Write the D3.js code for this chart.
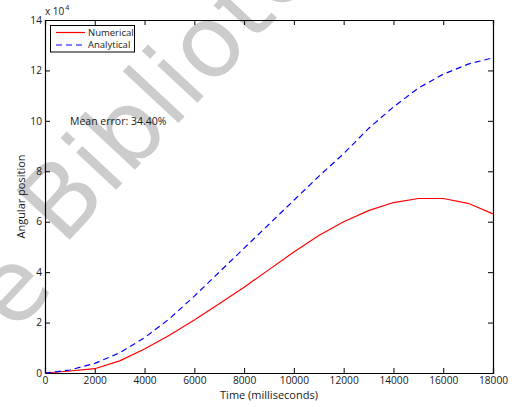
<!DOCTYPE html>
<html>
<head>
<meta charset="utf-8">
<script src="https://cdn.jsdelivr.net/npm/d3@7"></script>
<style>
  html, body { margin: 0; padding: 0; background: #fff; }
  svg { display: block; }
  text { font-family: "Open Sans", sans-serif; fill: #1a1a1a; }
  text.wm { font-family: "DejaVu Sans", sans-serif; font-size: 100px; fill: #cccccc; }
</style>
</head>
<body>
<svg id="chart" width="512" height="407"></svg>
<script>
// ---- data ----
const timeMs = [0,1000,2000,3000,4000,5000,6000,7000,8000,9000,10000,11000,12000,13000,14000,15000,16000,17000,18000];
const numerical = [0,800,1700,4800,9500,15000,21000,27500,34000,41000,48000,54500,60000,64400,67600,69200,69200,67300,63100];
const analytical = [0,1200,3800,8000,14000,21500,30500,40000,49500,59000,68500,78000,87000,97000,105500,113000,118500,122500,125000];
const xTicks = [0,2000,4000,6000,8000,10000,12000,14000,16000,18000];
const yTicks = [0,20000,40000,60000,80000,100000,120000,140000];
const seriesNames = ["Numerical","Analytical"];
const seriesColors = ["#ff0000","#0000ff"];
const meanErrorText = "Mean error: 34.40%";
const watermarkFirst = "e";
const watermarkRest = "Biblioteca";

const svg = d3.select("#chart");
const margin = {left: 45, right: 19, top: 20, bottom: 34};
const W = 512, H = 407;
const x = d3.scaleLinear().domain([0,18000]).range([margin.left, W - margin.right]);
const y = d3.scaleLinear().domain([0,140000]).range([H - margin.bottom, margin.top]);

// watermark (light grey, behind the plot)
svg.append("text").attr("class", "wm").attr("transform", "translate(14,334) rotate(-47)").text(watermarkFirst);
svg.append("text").attr("class", "wm").attr("transform", "translate(63,247) rotate(-47)").text(watermarkRest);

const tickFmt = d => d / 10000;

// axes (MATLAB-like box with inward ticks)
const gx = svg.append("g").attr("transform", `translate(0,${y(0)})`)
  .call(d3.axisBottom(x).tickValues(xTicks).tickSize(-5).tickPadding(4).tickFormat(d3.format("d")));
const gxTop = svg.append("g").attr("transform", `translate(0,${y(140000)})`)
  .call(d3.axisTop(x).tickValues(xTicks).tickSize(-5).tickFormat(""));
const gy = svg.append("g").attr("transform", `translate(${x(0)},0)`)
  .call(d3.axisLeft(y).tickValues(yTicks).tickSize(-5).tickPadding(3).tickFormat(tickFmt));
const gyR = svg.append("g").attr("transform", `translate(${x(18000)},0)`)
  .call(d3.axisRight(y).tickValues(yTicks).tickSize(-5).tickFormat(""));

[gx, gxTop, gy, gyR].forEach(g => {
  g.selectAll(".domain").attr("stroke", "#000").attr("stroke-width", 1.2);
  g.selectAll(".tick line").attr("stroke", "#000").attr("stroke-width", 1);
  g.selectAll("text").style("font-family", "'Open Sans', sans-serif").style("font-size", "10.2px").attr("fill", "#1a1a1a");
});

// x10^4 label
const exp = svg.append("text").attr("x", 45).attr("y", 15).style("font-size", "10px");
exp.append("tspan").text("x 10");
exp.append("tspan").attr("dy", -5).attr("dx", 1).style("font-size", "7px").text("4");

// axis labels
svg.append("text").attr("x", (x(0) + x(18000)) / 2).attr("y", 399)
  .attr("text-anchor", "middle").style("font-size", "11px").text("Time (milliseconds)");
svg.append("text").attr("transform", `translate(25,${(y(0) + y(140000)) / 2}) rotate(-90)`)
  .attr("text-anchor", "middle").style("font-size", "11px").text("Angular position");

// mean error annotation
svg.append("text").attr("x", 70).attr("y", 125).style("font-size", "10.5px").text(meanErrorText);

// lines
const line = d3.line().x((d, i) => x(timeMs[i])).y(d => y(d));
svg.append("path").datum(numerical).attr("d", line)
  .attr("fill", "none").attr("stroke", seriesColors[0]).attr("stroke-width", 1.2);
svg.append("path").datum(analytical).attr("d", line)
  .attr("fill", "none").attr("stroke", seriesColors[1]).attr("stroke-width", 1.2)
  .attr("stroke-dasharray", "6,4");

// legend
const lg = svg.append("g");
lg.append("rect").attr("x", 50.5).attr("y", 25.5).attr("width", 84).attr("height", 26.5)
  .attr("fill", "#fff").attr("stroke", "#000").attr("stroke-width", 1);
seriesNames.forEach((name, i) => {
  const yy = 32.5 + i * 12.5;
  lg.append("line").attr("x1", 56).attr("x2", 85).attr("y1", yy).attr("y2", yy)
    .attr("stroke", seriesColors[i]).attr("stroke-width", 1.2)
    .attr("stroke-dasharray", i === 1 ? "6,4" : null);
  lg.append("text").attr("x", 88).attr("y", yy + 3.4).style("font-size", "9.5px").text(name);
});
</script>
</body>
</html>
